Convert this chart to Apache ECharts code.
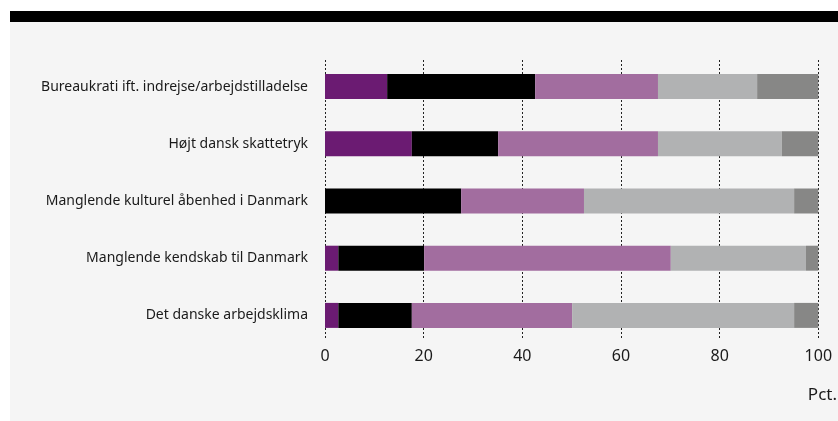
<!DOCTYPE html>
<html>
<head>
<meta charset="utf-8">
<script src="https://cdn.jsdelivr.net/npm/echarts@6/dist/echarts.min.js"></script>
<style>
html,body{margin:0;padding:0;background:#ffffff;}
#chart{width:838px;height:421px;}
</style>
</head>
<body>
<div id="chart"></div>
<script>
const categories = [
  "Bureaukrati ift. indrejse/arbejdstilladelse",
  "Højt dansk skattetryk",
  "Manglende kulturel åbenhed i Danmark",
  "Manglende kendskab til Danmark",
  "Det danske arbejdsklima"
];
const seriesNames = ["Serie 1", "Serie 2", "Serie 3", "Serie 4", "Serie 5"];
const s1 = [12.6, 17.6, 0, 2.7, 2.7];
const s2 = [30.0, 17.5, 27.6, 17.4, 14.9];
const s3 = [24.9, 32.4, 24.9, 50.0, 32.5];
const s4 = [20.1, 25.1, 42.6, 27.4, 45.0];
const s5 = [12.4, 7.4, 4.9, 2.5, 4.9];
const xTicks = [0, 20, 40, 60, 80, 100];
const unitLabel = "Pct.";

const colors = ["#6b1b72", "#000000", "#a26d9f", "#b1b2b3", "#878786"];
const allSeries = [s1, s2, s3, s4, s5];

const chart = echarts.init(document.getElementById('chart'), null, {renderer: 'canvas'});
const FONT = "Noto Sans";

const option = {
  animation: false,
  backgroundColor: '#ffffff',
  graphic: [
    {type: 'rect', z: -10, shape: {x: 10, y: 22, width: 828, height: 399}, style: {fill: '#f5f5f5'}},
    {type: 'rect', z: -10, shape: {x: 10, y: 11, width: 828, height: 11}, style: {fill: '#000000'}}
  ],
  title: {
    text: unitLabel,
    right: 1,
    top: 387,
    padding: 0,
    textStyle: {fontFamily: FONT, fontSize: 17, fontWeight: 'normal', color: '#1a1a1a'}
  },
  grid: [
    {left: 325, right: 19.7, top: 58, height: 286, containLabel: false},
    {left: 325, right: 19.7, top: 60, height: 278, containLabel: false}
  ],
  xAxis: [
    {gridIndex: 0, type: 'value', min: 0, max: 100, interval: 20, show: false},
    {
      gridIndex: 1, type: 'value', min: 0, max: 100, interval: 20,
      axisLine: {show: false}, axisTick: {show: false},
      splitLine: {show: true, lineStyle: {color: '#222', type: [2, 2], width: 1}},
      axisLabel: {
        show: true, margin: 10, fontFamily: FONT, fontSize: 16, color: '#1a1a1a',
        formatter: v => xTicks.includes(v) ? String(v) : ''
      }
    }
  ],
  yAxis: [
    {
      gridIndex: 0, type: 'category', data: categories, inverse: true,
      axisLine: {show: false}, axisTick: {show: false}, splitLine: {show: false},
      axisLabel: {margin: 17, fontFamily: FONT, fontSize: 14, color: '#1a1a1a'}
    },
    {gridIndex: 1, type: 'value', show: false, min: 0, max: 1}
  ],
  series: allSeries.map((d, i) => ({
    name: seriesNames[i],
    type: 'bar',
    stack: 'total',
    xAxisIndex: 0,
    yAxisIndex: 0,
    barWidth: 25,
    itemStyle: {color: colors[i]},
    data: d,
    z: 5
  }))
};
chart.setOption(option);
</script>
</body>
</html>
